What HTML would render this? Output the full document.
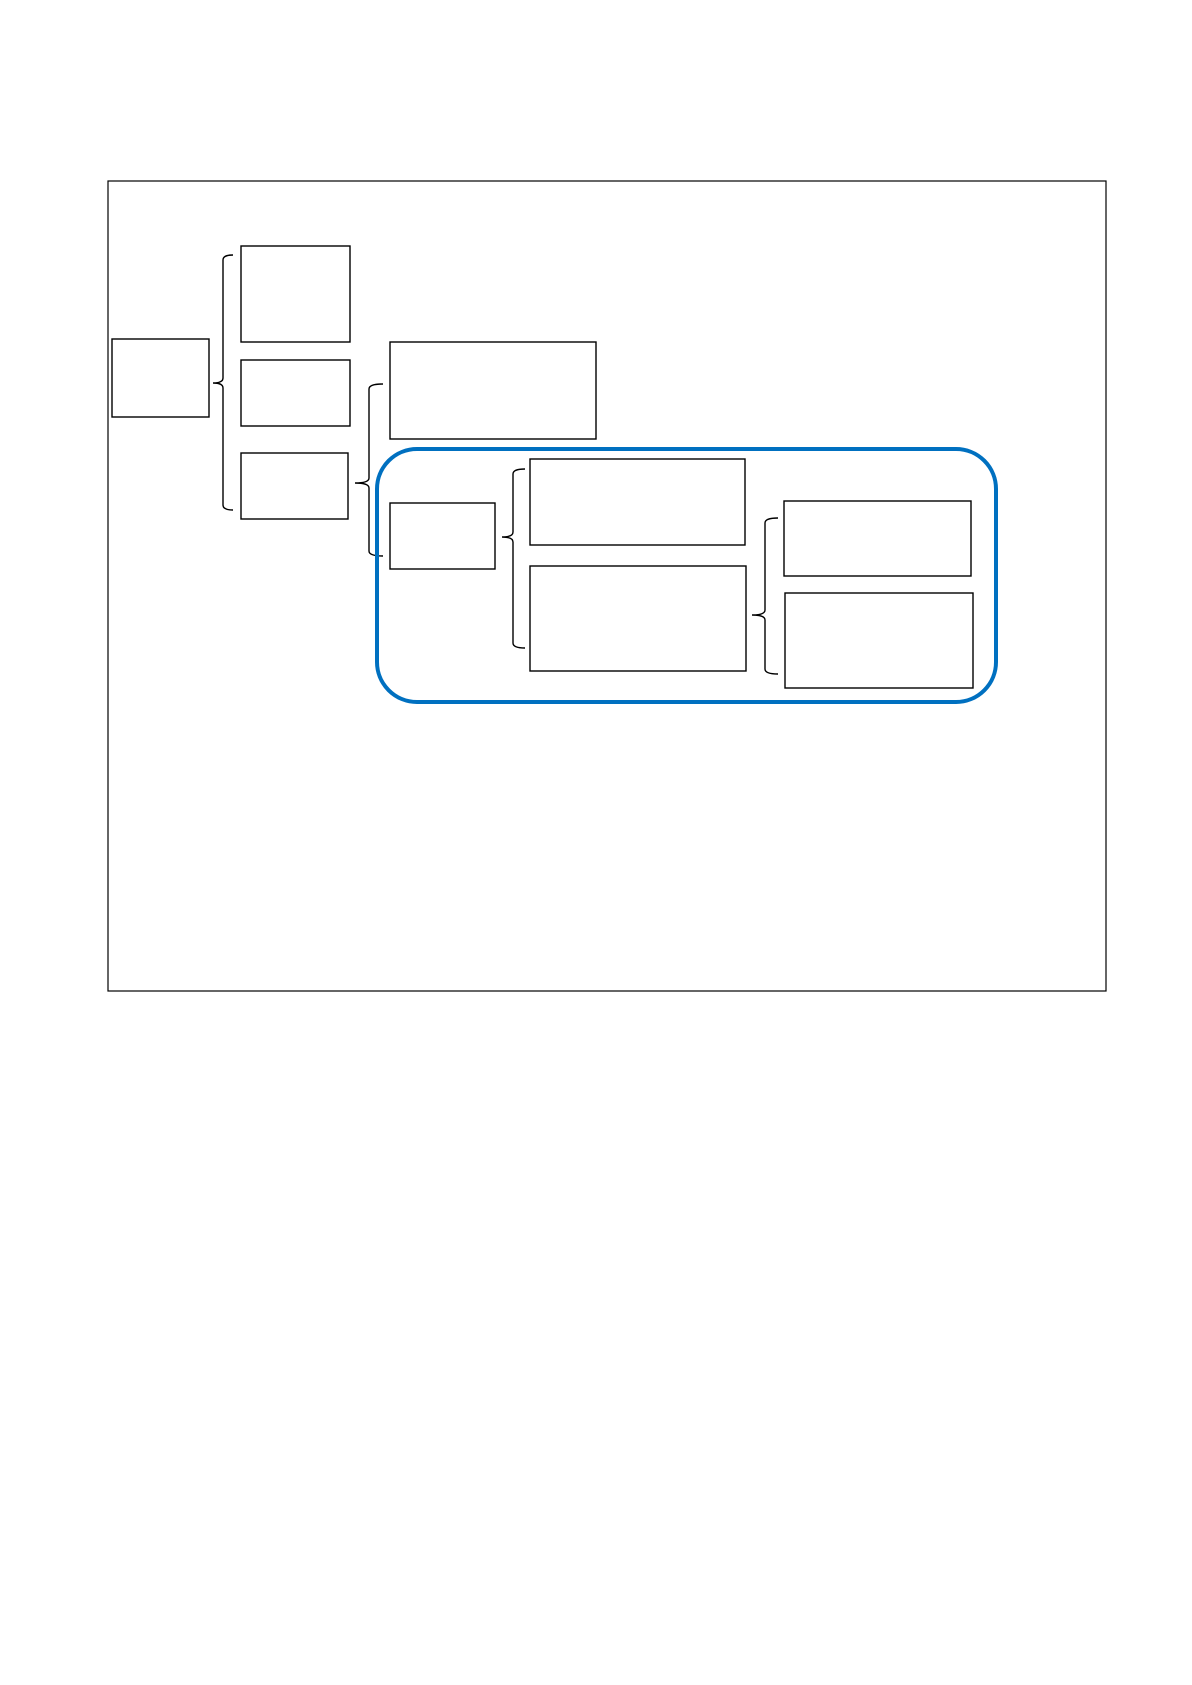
<!DOCTYPE html>
<html><head><meta charset="utf-8"><style>html,body{margin:0;padding:0;background:#fff}svg{display:block}</style></head>
<body>
<svg width="1192" height="1685" viewBox="0 0 1192 1685" xmlns="http://www.w3.org/2000/svg">
<rect x="108" y="181" width="998" height="810" fill="none" stroke="#000" stroke-width="1.2"/>
<g fill="none" stroke="#000" stroke-width="1.4">
<rect x="112" y="339" width="97" height="78"/>
<rect x="241" y="246" width="109" height="96"/>
<rect x="241" y="360" width="109" height="66"/>
<rect x="241" y="453" width="107" height="66"/>
<rect x="390" y="342" width="206" height="97"/>
<rect x="390" y="503" width="105" height="66"/>
<rect x="530" y="459" width="215" height="86"/>
<rect x="530" y="566" width="216" height="105"/>
<rect x="784" y="501" width="187" height="75"/>
<rect x="785" y="593" width="188" height="95"/>
<path d="M233 255 Q223 255 223 260 L223 378 Q223 383 213 383 Q223 383 223 388 L223 505 Q223 510 233 510"/>
<path d="M383 384 Q369 384 369 389 L369 478 Q369 483 355 483 Q369 483 369 488 L369 551 Q369 556 383 556"/>
<path d="M525 469 Q513 469 513 474 L513 532 Q513 537 502 537 Q513 537 513 542 L513 643 Q513 648 525 648"/>
<path d="M778 518 Q765 518 765 523 L765 610 Q765 615 752 615 Q765 615 765 620 L765 669 Q765 674 778 674"/>
</g>
<rect x="377" y="449" width="619" height="253" rx="40" ry="40" fill="none" stroke="#0070C0" stroke-width="4"/>
</svg>
</body></html>
